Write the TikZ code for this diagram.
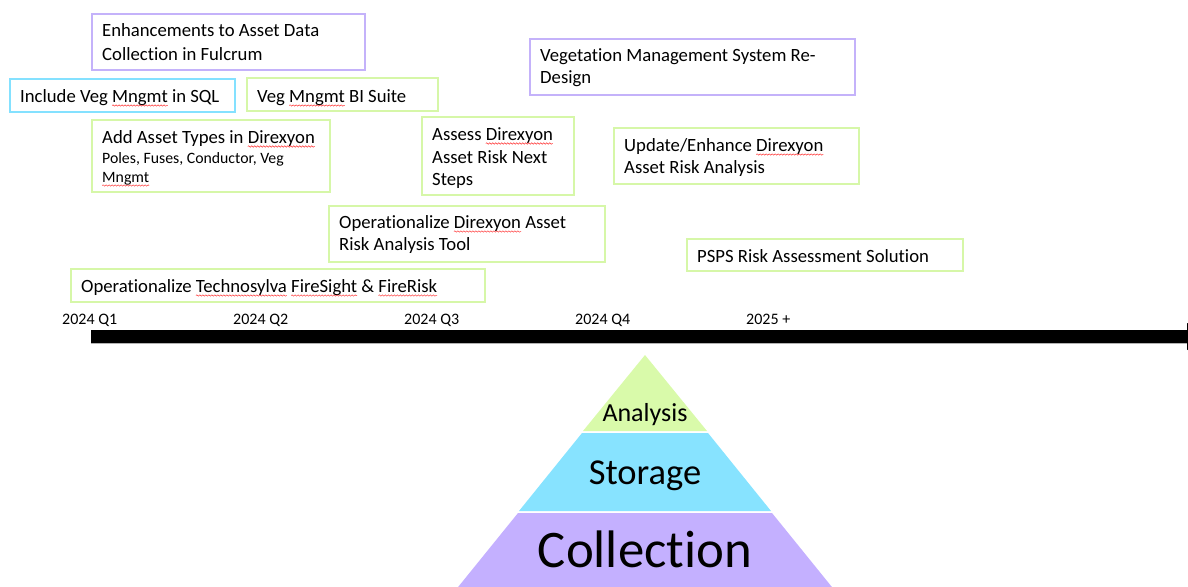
\documentclass[tikz,border=0pt]{standalone}
\usepackage{fontspec}
\setmainfont[Ligatures={NoCommon}]{Carlito}
\usetikzlibrary{decorations.pathmorphing}
\newcommand\tI{t\kern0pt i}
\newsavebox\sqbox
\newcommand\sq[1]{\sbox\sqbox{#1}\leavevmode\rlap{\usebox\sqbox}\tikz[baseline=0pt,x=1pt,y=1pt]{\useasboundingbox (0,0) rectangle (\wd\sqbox,0.1);\draw[red!80,line width=0.5pt,decorate,decoration={snake,amplitude=0.7pt,segment length=3pt}] (0,-3.5) -- (\wd\sqbox,-3.5);}}
\definecolor{gbord}{RGB}{214,247,168}
\definecolor{pbord}{RGB}{196,178,250}
\definecolor{cbord}{RGB}{132,225,255}
\definecolor{gfill}{RGB}{217,250,170}
\definecolor{cfill}{RGB}{135,227,255}
\definecolor{pfill}{RGB}{196,176,255}
\tikzset{
  gbox/.style={draw=gbord,line width=2.6pt},
  pbox/.style={draw=pbord,line width=2.6pt},
  cbox/.style={draw=cbord,line width=2.6pt},
  txt/.style={anchor=base west,inner sep=0pt,font=\fontsize{18.7}{22.8}\selectfont},
  small/.style={anchor=base west,inner sep=0pt,font=\fontsize{15.8}{19.5}\selectfont},
  qlab/.style={anchor=base west,inner sep=0pt,font=\fontsize{16}{19}\selectfont},
}
\begin{document}
\begin{tikzpicture}[x=1pt,y=-1pt]
\useasboundingbox (0,0) rectangle (1188,586);
% boxes
\draw[pbox] (92,14) rectangle (365,70);
\node[txt] (t1a) at (102,37) {Enhancements to Asset Data};
\node[txt] (t1b) at (102,60) {Collec\tI on in Fulcrum};
\draw[cbox] (10,79) rectangle (235,112);
\node[txt] (t2) at (20,102) {Include Veg \sq{Mngmt} in SQL};
\draw[gbox] (247,78) rectangle (438,111);
\node[txt] (t3) at (257,102) {Veg \sq{Mngmt} BI Suite};
\draw[gbox] (92,120) rectangle (330,192);
\node[txt] (t4a) at (102,143) {Add Asset Types in \sq{Direxyon}};
\node[small] (t4b) at (102,163) {Poles, Fuses, Conductor, Veg};
\node[small] (t4c) at (102,182) {\sq{Mngmt}};
\draw[gbox] (422,117) rectangle (574,195);
\node[txt] (t5a) at (432,140) {Assess \sq{Direxyon}};
\node[txt] (t5b) at (432,163) {Asset Risk Next};
\node[txt] (t5c) at (432,185) {Steps};
\draw[pbox] (530,39) rectangle (855,95);
\node[txt] (t6a) at (540,62) {Vegeta\tI on Management System Re-};
\node[txt] (t6b) at (540,84) {Design};
\draw[gbox] (614,128) rectangle (859,184);
\node[txt] (t7a) at (624,151) {Update/Enhance \sq{Direxyon}};
\node[txt] (t7b) at (624,173) {Asset Risk Analysis};
\draw[gbox] (329,206) rectangle (605,262);
\node[txt] (t8a) at (339,228) {Opera\tI onalize \sq{Direxyon} Asset};
\node[txt] (t8b) at (339,250) {Risk Analysis Tool};
\draw[gbox] (687,239) rectangle (963,271);
\node[txt] (t9) at (697,262) {PSPS Risk Assessment Solu\tI on};
\draw[gbox] (71,269) rectangle (485,302);
\node[txt] (t10) at (81,292) {Opera\tI onalize \sq{Technosylva} \sq{FireSight} \& \sq{FireRisk}};
% timeline
\node[qlab] (q1) at (62,324) {2024 Q1};
\node[qlab] (q2) at (233,324) {2024 Q2};
\node[qlab] (q3) at (404,324) {2024 Q3};
\node[qlab] (q4) at (575,324) {2024 Q4};
\node[qlab] (q5) at (746,324) {2025 +};
\begin{scope}
\clip (0,0) rectangle (1188,586);
\fill[black] (91,330) rectangle (1187,343);
\draw[gray!60,line width=0.8pt] (91,343.5) -- (1187,343.5);
\fill[black] (1187,323) -- (1215,336.5) -- (1187,350) -- cycle;
\end{scope}
% pyramid
\begin{scope}
\clip (0,0) rectangle (1188,586);
\fill[gfill] (645,355) -- (707,431) -- (583,431) -- cycle;
\fill[cfill] (582,433) -- (708,433) -- (771,511) -- (519,511) -- cycle;
\fill[pfill] (518,513) -- (772,513) -- (840,597) -- (450,597) -- cycle;
\end{scope}
\node[anchor=base,inner sep=0pt,font=\fontsize{26}{30}\selectfont] (pa) at (645,421) {Analysis};
\node[anchor=base,inner sep=0pt,font=\fontsize{36.5}{42}\selectfont] (ps) at (645,484) {Storage};
\node[anchor=base,inner sep=0pt,font=\fontsize{52.8}{60}\selectfont] (pc) at (645,567) {Collec\tI on};
\end{tikzpicture}
\end{document}
